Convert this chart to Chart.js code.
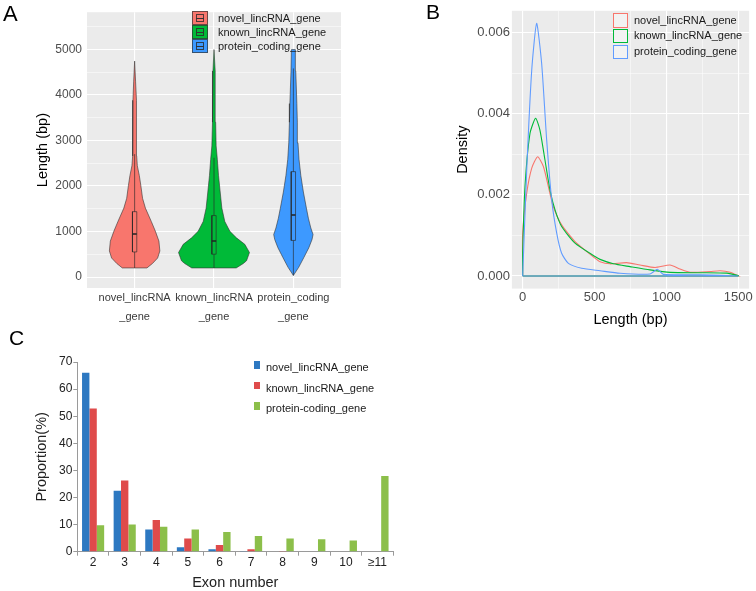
<!DOCTYPE html>
<html>
<head>
<meta charset="utf-8">
<script src="https://cdn.jsdelivr.net/npm/chart.js@4.4.0/dist/chart.umd.min.js"></script>
<style>
body { margin:0; width:756px; height:591px; overflow:hidden; background:#fff; font-family:'Liberation Sans', Arial, sans-serif; }
.box { position:absolute; }
.tag { position:absolute; font-size:22px; line-height:22px; color:#000; }
.lg { position:absolute; font-size:11px; line-height:13px; color:#1a1a1a; white-space:nowrap; }
.key { position:absolute; box-sizing:border-box; }
</style>
</head>
<body>
<div class="box" style="left:0;top:0;width:380px;height:340px"><canvas id="chartA"></canvas></div>
<div class="box" style="left:380px;top:0;width:376px;height:340px"><canvas id="chartB"></canvas></div>
<div class="box" style="left:0;top:330px;width:400px;height:270px"><canvas id="chartC"></canvas></div>
<div class="tag" style="left:3px;top:3px">A</div>
<div class="tag" style="left:426px;top:1px;font-size:21px">B</div>
<div class="tag" style="left:9px;top:327px;font-size:21px">C</div>
<div id="legends"></div>
<script>
// ---- Panel A: violin + box ----
const genes = ['novel_lincRNA_gene', 'known_lincRNA_gene', 'protein_coding_gene'];
const geneColors = ['#F8766D', '#00BA38', '#3D99FF'];
const xLabelsA = [['novel_lincRNA', '_gene'], ['known_lincRNA', '_gene'], ['protein_coding', '_gene']];
const yTicksA = [0, 500, 1000, 1500, 2000, 2500, 3000, 3500, 4000, 4500, 5000, 5500];

// violin outlines: length (bp) and half width (in category units)
const novelLen = [202, 300, 420, 575, 791, 1006, 1222, 1515, 1730, 2013, 2230, 2444, 2660, 2880, 3400, 3880, 4300, 4741];
const novelHalf = [0.155, 0.225, 0.29, 0.318, 0.306, 0.262, 0.21, 0.136, 0.10, 0.078, 0.059, 0.034, 0.026, 0.027, 0.022, 0.021, 0.012, 0];
const knownLen = [202, 300, 360, 540, 720, 862, 1006, 1222, 1515, 1868, 2230, 2586, 2880, 3400, 3808, 4525, 4994];
const knownHalf = [0.28, 0.37, 0.41, 0.447, 0.388, 0.283, 0.2, 0.136, 0.099, 0.078, 0.057, 0.042, 0.027, 0.021, 0.017, 0.013, 0];
const proteinLen = [37, 216, 431, 647, 826, 935, 1078, 1293, 1515, 1868, 2230, 2586, 2948, 3400, 3808, 4525, 4994];
const proteinHalf = [0, 0.067, 0.132, 0.195, 0.235, 0.248, 0.22, 0.189, 0.164, 0.126, 0.094, 0.071, 0.058, 0.05, 0.044, 0.03, 0.025];

const boxLow = [202, 202, 37];
const boxQ1 = [553, 504, 806];
const boxMed = [948, 791, 1366];
const boxQ3 = [1437, 1351, 2315];
const boxHigh = [2700, 2620, 4580];
const boxHalf = 0.027;

// ---- Panel B: density ----
const densXTicks = [0, 250, 500, 750, 1000, 1250, 1500];
const densYTicks = [0, 0.001, 0.002, 0.003, 0.004, 0.005, 0.006];
const novelDensX = [0, 28, 63, 104, 144, 179, 213, 271, 364, 503, 538, 607, 723, 816, 921, 1025, 1095, 1165, 1304, 1373, 1443, 1500];
const novelDensY = [0.00106, 0.00204, 0.00266, 0.00294, 0.0027, 0.0022, 0.00171, 0.00126, 0.00085, 0.00044, 0.00035, 0.0003, 0.00033, 0.00027, 0.00021, 0.00027, 0.00017, 0.00009, 0.00011, 0.00013, 0.00009, 0];
const knownDensX = [0, 16, 51, 90, 120, 155, 190, 225, 271, 364, 503, 538, 631, 747, 886, 1025, 1234, 1420, 1500];
const knownDensY = [0.00056, 0.0022, 0.00352, 0.00389, 0.0036, 0.00286, 0.00212, 0.00163, 0.00122, 0.00081, 0.00048, 0.00041, 0.0003, 0.00023, 0.00015, 0.00009, 0.00008, 0.00007, 0.00001];
const proteinDensX = [0, 28, 63, 97, 132, 167, 202, 237, 271, 318, 410, 538, 677, 886, 937, 978, 1234, 1500];
const proteinDensY = [0, 0.00261, 0.00508, 0.00623, 0.00524, 0.00335, 0.00187, 0.00105, 0.00056, 0.00031, 0.00019, 0.00013, 0.000067, 0.00005, 0.000165, 0.00004, 0.00003, 0];
const densColors = ['#F8766D', '#00BA38', '#619CFF'];

// ---- Panel C: exon number ----
const exonCats = ['2', '3', '4', '5', '6', '7', '8', '9', '10', '\u226511'];
const exonNames = ['novel_lincRNA_gene', 'known_lincRNA_gene', 'protein-coding_gene'];
const novelExon = [66, 22.5, 8.2, 1.6, 0.9, 0.3, 0.2, 0, 0, 0];
const knownExon = [52.8, 26.3, 11.7, 4.9, 2.5, 0.9, 0.3, 0, 0, 0];
const proteinExon = [9.8, 10, 9.2, 8.2, 7.3, 5.8, 4.9, 4.6, 4.1, 27.9];
const exonColors = ['#2d78c1', '#df4b4b', '#8cbf4a'];

Chart.defaults.font.family = "'Liberation Sans', Arial, sans-serif";
Chart.defaults.color = '#4d4d4d';
Chart.defaults.animation = false;

// grey ggplot panel
const panelBg = {
    id: 'panelBg',
    beforeDraw(chart, args, opts) {
        if (!opts.color) return;
        const a = chart.chartArea, ctx = chart.ctx;
        ctx.save();
        ctx.fillStyle = opts.color;
        ctx.fillRect(a.left, a.top, a.right - a.left, a.bottom - a.top);
        ctx.restore();
    }
};

function fixTicks(list) {
    return function(scale) { scale.ticks = list.map(v => ({value: v})); };
}
function gridWidth(ctx) {
    return ctx.index % 2 === 0 ? 1.1 : 0.5;
}

function violinPoints(pos, lens, half) {
    const right = lens.map((y, i) => ({x: pos + half[i], y: y}));
    const left = lens.map((y, i) => ({x: pos - half[i], y: y})).reverse();
    return right.concat(left, [right[0]]);
}

// Panel A datasets
const violins = [[novelLen, novelHalf], [knownLen, knownHalf], [proteinLen, proteinHalf]];
let dsA = [];
for (let i = 0; i < genes.length; i++) {
    let pos = i + 1;
    dsA.push({data: violinPoints(pos, violins[i][0], violins[i][1]), showLine: true, fill: 'shape', tension: 0,
        backgroundColor: geneColors[i], borderColor: 'rgba(50,50,50,0.85)', borderWidth: 0.7, pointRadius: 0, order: 4});
    dsA.push({data: [{x: pos, y: boxLow[i]}, {x: pos, y: boxHigh[i]}], showLine: true,
        borderColor: 'rgba(40,40,40,0.9)', borderWidth: 0.7, pointRadius: 0, order: 3});
    dsA.push({data: [{x: pos - boxHalf, y: boxQ1[i]}, {x: pos + boxHalf, y: boxQ1[i]}, {x: pos + boxHalf, y: boxQ3[i]},
        {x: pos - boxHalf, y: boxQ3[i]}, {x: pos - boxHalf, y: boxQ1[i]}], showLine: true, fill: 'shape',
        backgroundColor: geneColors[i], borderColor: 'rgba(40,40,40,0.9)', borderWidth: 0.7, pointRadius: 0, order: 2});
    dsA.push({data: [{x: pos - boxHalf, y: boxMed[i]}, {x: pos + boxHalf, y: boxMed[i]}], showLine: true,
        borderColor: '#222', borderWidth: 1.5, pointRadius: 0, order: 1});
}

new Chart(document.getElementById('chartA'), {
    type: 'scatter',
    data: {datasets: dsA},
    options: {
        responsive: true, maintainAspectRatio: false, events: [],
        layout: {padding: {left: 0, top: 8, right: 39, bottom: 0}},
        plugins: {legend: {display: false}, tooltip: {enabled: false}, panelBg: {color: '#EBEBEB'}},
        scales: {
            x: {type: 'linear', min: 0.4, max: 3.6, afterBuildTicks: fixTicks([1, 2, 3]),
                afterFit: s => { s.height = 52; },
                grid: {color: '#fff', lineWidth: 1.1, drawTicks: false}, border: {display: false},
                ticks: {padding: 0.5, color: '#3a3a3a', maxRotation: 0, autoSkip: false, font: {size: 11, lineHeight: '19px'},
                    callback: v => xLabelsA[v - 1]}},
            y: {type: 'linear', min: -238, max: 5814, afterBuildTicks: fixTicks(yTicksA),
                afterFit: s => { s.width = 87; },
                grid: {color: '#fff', lineWidth: gridWidth, drawTicks: false}, border: {display: false},
                ticks: {padding: 5, color: '#4d4d4d', font: {size: 12}, callback: v => v % 1000 === 0 ? String(v) : ''},
                title: {display: true, text: 'Length (bp)', color: '#000', font: {size: 14.5}, padding: {top: 34.3, bottom: 0}}}
        }
    },
    plugins: [panelBg]
});

// Panel B datasets: outline of each density, with its baseline
function densPoints(xs, ys) {
    let pts = [{x: xs[0], y: 0}];
    for (let i = 0; i < xs.length; i++) pts.push({x: xs[i], y: ys[i]});
    pts.push({x: xs[xs.length - 1], y: 0}, {x: xs[0], y: 0});
    return pts;
}
const densSets = [[novelDensX, novelDensY], [knownDensX, knownDensY], [proteinDensX, proteinDensY]];
let dsB = densSets.map((d, i) => ({
    data: densPoints(d[0], d[1]), showLine: true, fill: false, tension: 0.2,
    borderColor: densColors[i], borderWidth: 1.1, pointRadius: 0, order: 3 - i
}));

new Chart(document.getElementById('chartB'), {
    type: 'scatter',
    data: {datasets: dsB},
    options: {
        responsive: true, maintainAspectRatio: false, events: [],
        layout: {padding: {left: 0, top: 10.8, right: 6.9, bottom: 0}},
        plugins: {legend: {display: false}, tooltip: {enabled: false}, panelBg: {color: '#EBEBEB'}},
        scales: {
            x: {type: 'linear', min: -75, max: 1575, afterBuildTicks: fixTicks(densXTicks),
                afterFit: s => { s.height = 51.4; },
                grid: {color: '#fff', lineWidth: gridWidth, drawTicks: false}, border: {display: false},
                ticks: {padding: 1, color: '#4d4d4d', maxRotation: 0, autoSkip: false, font: {size: 13},
                    callback: v => v % 500 === 0 ? String(v) : ''},
                title: {display: true, text: 'Length (bp)', color: '#000', font: {size: 14.5}, padding: {top: 0, bottom: 11.3}}},
            y: {type: 'linear', min: -0.000311, max: 0.00654, afterBuildTicks: fixTicks(densYTicks),
                afterFit: s => { s.width = 131.9; },
                grid: {color: '#fff', lineWidth: gridWidth, drawTicks: false}, border: {display: false},
                ticks: {padding: 2, color: '#4d4d4d', font: {size: 13}, callback: (v, i) => i % 2 === 0 ? v.toFixed(3) : ''},
                title: {display: true, text: 'Density', color: '#000', font: {size: 14.5}, padding: {top: 74.3, bottom: 0}}}
        }
    },
    plugins: [panelBg]
});

// Panel C: grouped bars
new Chart(document.getElementById('chartC'), {
    type: 'bar',
    data: {
        labels: exonCats,
        datasets: [novelExon, knownExon, proteinExon].map((d, i) => ({
            label: exonNames[i], data: d, backgroundColor: exonColors[i], borderWidth: 0,
            categoryPercentage: 0.7, barPercentage: 1.0
        }))
    },
    options: {
        responsive: true, maintainAspectRatio: false, events: [],
        layout: {padding: {left: 0, top: 32, right: 6.7, bottom: 0}},
        plugins: {legend: {display: false}, tooltip: {enabled: false}},
        scales: {
            x: {afterFit: s => { s.height = 48.3; },
                grid: {offset: true, drawOnChartArea: false, drawTicks: true, tickLength: 4, color: '#9a9a9a'},
                border: {display: true, color: '#9a9a9a'},
                ticks: {padding: 0, color: '#222', font: {size: 12}, maxRotation: 0, autoSkip: false},
                title: {display: true, text: 'Exon number', color: '#222', font: {size: 14.5}, padding: {top: 0, bottom: 8}}},
            y: {min: 0, max: 70, afterFit: s => { s.width = 77.3; },
                grid: {drawOnChartArea: false, drawTicks: true, tickLength: 4, color: '#9a9a9a'},
                border: {display: true, color: '#9a9a9a'},
                ticks: {stepSize: 10, padding: 1, color: '#222', font: {size: 12}},
                title: {display: true, text: 'Proportion(%)', color: '#222', font: {size: 14.5}, padding: {top: 33, bottom: 0}}}
        }
    }
});

// HTML legends
let html = '';
const keyTopsA = [11, 25, 39];
for (let i = 0; i < genes.length; i++) {
    let t = keyTopsA[i];
    html += `<div class="key" style="left:192px;top:${t}px;width:16px;height:13.5px;background:${geneColors[i]};border:1px solid rgba(50,50,50,0.7)"></div>`;
    html += `<div class="key" style="left:196px;top:${t + 3}px;width:8px;height:7.5px;border:1px solid rgba(40,40,40,0.8)"></div>`;
    html += `<div class="key" style="left:196px;top:${t + 6.5}px;width:8px;height:1.2px;background:#333"></div>`;
    html += `<div class="lg" style="left:218px;top:${t + 0.5}px">${genes[i]}</div>`;
}
const keyTopsB = [13, 28.5, 44.5];
for (let i = 0; i < genes.length; i++) {
    let t = keyTopsB[i];
    html += `<div class="key" style="left:613px;top:${t}px;width:14.5px;height:14.5px;background:#f2f2f2;border:1.5px solid ${densColors[i]}"></div>`;
    html += `<div class="lg" style="left:634px;top:${t + 0.7}px">${genes[i]}</div>`;
}
const keyTopsC = [361, 381.5, 402];
for (let i = 0; i < exonNames.length; i++) {
    let t = keyTopsC[i];
    html += `<div class="key" style="left:254px;top:${t}px;width:6px;height:7.5px;background:${exonColors[i]}"></div>`;
    html += `<div class="lg" style="left:266px;top:${t}px">${exonNames[i]}</div>`;
}
document.getElementById('legends').innerHTML = html;
</script>
</body>
</html>
